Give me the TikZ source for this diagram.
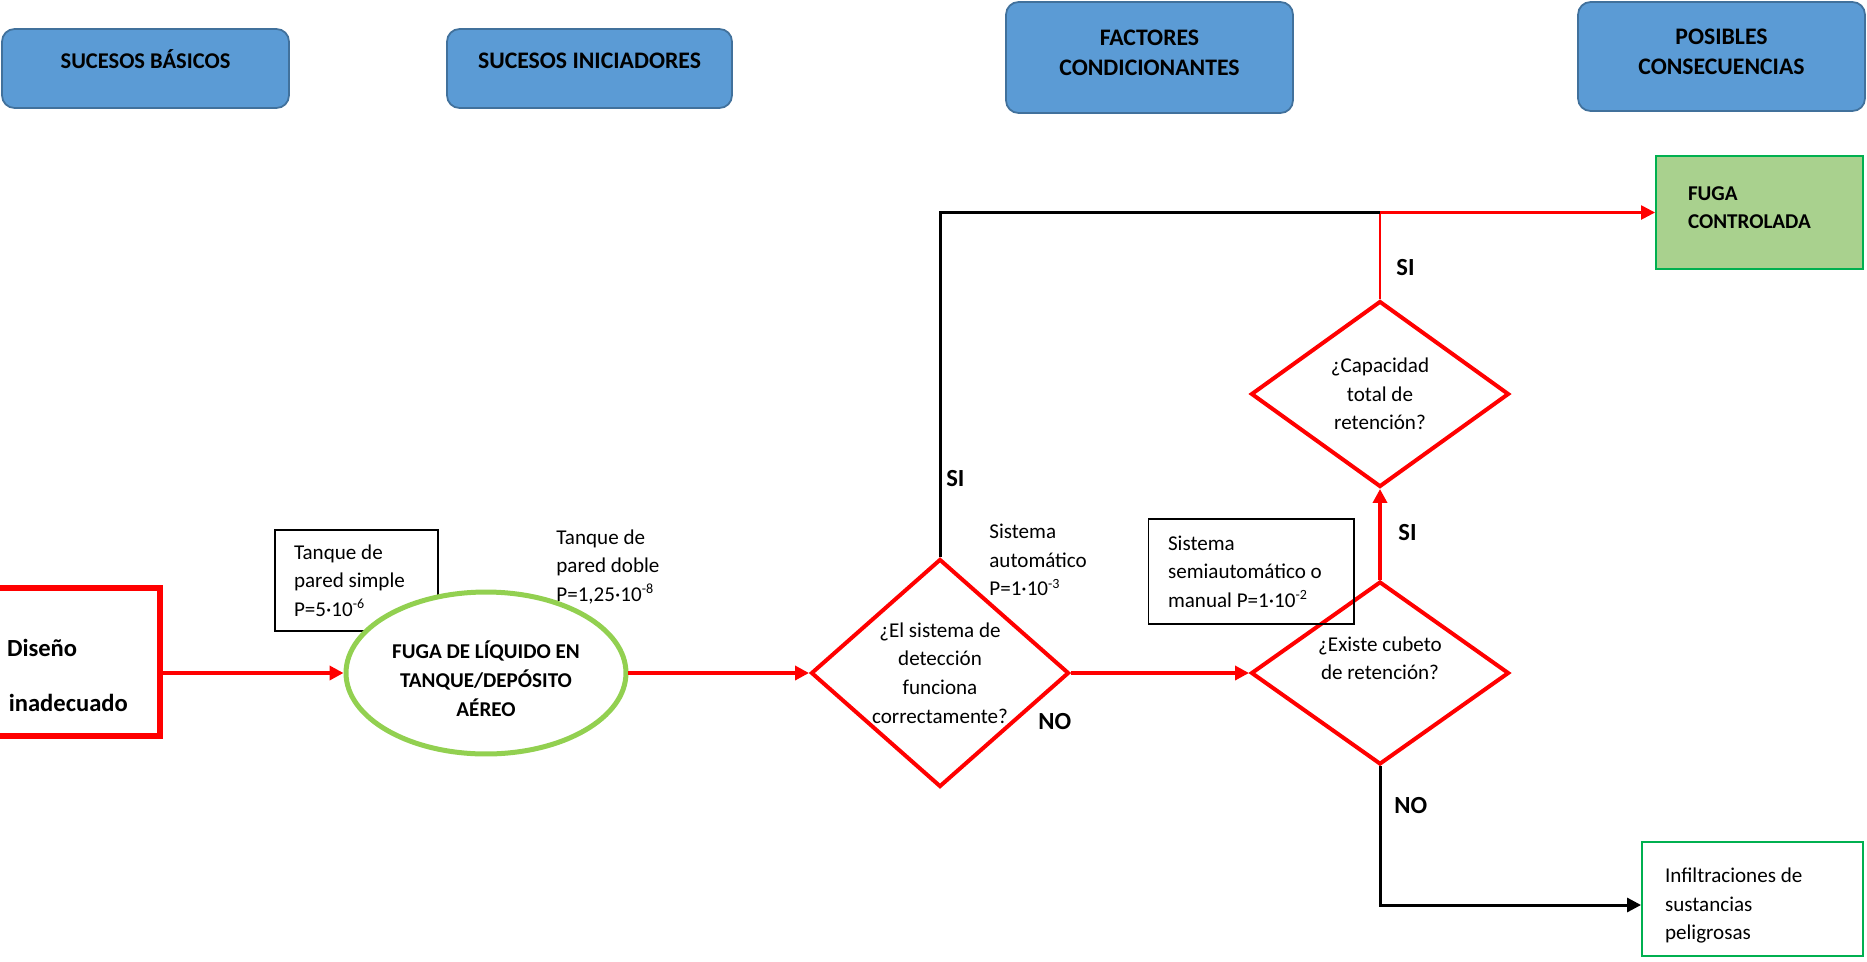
\documentclass[tikz,border=0pt]{standalone}
\usepackage{fontspec}
\setmainfont{Carlito}
\usetikzlibrary{arrows.meta,shapes.geometric}
\definecolor{cabecera}{HTML}{5B9BD5}
\definecolor{cabborde}{HTML}{41719C}
\definecolor{verdeclaro}{HTML}{92D050}
\definecolor{verdecaja}{HTML}{A9D18E}
\definecolor{verdeborde}{HTML}{00B050}
\definecolor{rojo}{HTML}{FF0000}

\begin{document}
\begin{tikzpicture}[x=0.02cm,y=-0.02cm,
  cab/.style={draw=cabborde,fill=cabecera,line width=1pt,rounded corners=0.25cm,align=center,font=\bfseries\fontsize{13.5}{17}\selectfont,minimum width=5.74cm},
  caja/.style={draw,line width=0.6pt,align=flush left,font=\fontsize{12}{16.3}\selectfont},
  rombo/.style={diamond,draw=rojo,line width=0.08cm,inner sep=0pt,align=center,font=\fontsize{12}{16.3}\selectfont,minimum width=5.16cm},
  flecha/.style={draw=rojo,line width=2.3pt,-{Triangle[length=0.28cm,width=0.28cm]}},
  fina/.style={draw=rojo,line width=1.4pt},
  negra/.style={draw=black,line width=1.7pt},
  etiq/.style={anchor=west,inner sep=0pt,font=\bfseries\fontsize{14}{17}\selectfont},
  nota/.style={anchor=west,inner sep=0pt,align=left,font=\fontsize{12}{16.3}\selectfont}]
\useasboundingbox (0,0) rectangle (1867,961);

\node[cab,minimum height=1.58cm,text height=8pt,text depth=8pt,font=\bfseries\fontsize{12.8}{17}\selectfont] (basicos) at (145.5,68.5) {SUCESOS BÁSICOS};
\node[cab,minimum width=5.70cm,minimum height=1.58cm,text height=8pt,text depth=8pt] (iniciadores) at (589.5,68.5) {SUCESOS INICIADORES};
\node[cab,minimum height=2.22cm,text depth=5pt] (factores) at (1149.5,57.5) {FACTORES\\CONDICIONANTES};
\node[cab,minimum height=2.18cm,text depth=5pt] (consecuencias) at (1721.5,56.5) {POSIBLES\\CONSECUENCIAS};

\node[draw=rojo,line width=0.12cm,minimum width=3.4cm,minimum height=2.96cm,text width=2.72cm,inner xsep=0.34cm,align=flush left,text depth=16pt,font=\bfseries\fontsize{14}{17}\selectfont] (dis) at (75,662) {Diseño\\[14pt]\hspace{1pt}inadecuado};
\node[caja,text width=2.5cm,inner xsep=0.38cm,minimum height=2.02cm] (simple) at (356.5,580.5) {Tanque de\\pared simple\\P=5·10\textsuperscript{-6}};
\node[ellipse,draw=verdeclaro,fill=white,line width=0.1cm,inner sep=0pt,minimum width=5.6cm,minimum height=3.24cm,align=center,text height=49pt,text depth=0pt,font=\bfseries\fontsize{12}{16.3}\selectfont] (fuga) at (486,673) {FUGA DE LÍQUIDO EN\\TANQUE/DEPÓSITO\\AÉREO};
\node[nota] (doble) at (556,567) {Tanque de\\pared doble\\P=1,25·10\textsuperscript{-8}};

\node[rombo,minimum height=4.56cm,shape aspect=1.13] (deteccion) at (940,673) {¿El sistema de\\detección\\funciona\\correctamente?};
\node[nota] (automatico) at (989,560) {Sistema\\automático\\P=1·10\textsuperscript{-3}};
\node[rombo,minimum height=3.66cm,shape aspect=1.41,text depth=17pt] (cubeto) at (1380,673) {¿Existe cubeto\\de retención?};
\node[caja,text width=3.32cm,inner xsep=0.4cm,minimum height=2.1cm] (manual) at (1251,571.5) {Sistema\\semiautomático o\\manual P=1·10\textsuperscript{-2}};
\node[rombo,minimum height=3.72cm,shape aspect=1.39] (capacidad) at (1380,394) {¿Capacidad\\total de\\retención?};

\node[draw=verdeborde,fill=verdecaja,line width=1.1pt,text width=2.86cm,inner xsep=0.64cm,minimum height=2.26cm,align=flush left,text depth=22pt,font=\bfseries\fontsize{12}{16.3}\selectfont] (controlada) at (1759.5,212.5) {FUGA\\CONTROLADA};
\node[draw=verdeborde,line width=1.1pt,text width=3.5cm,inner xsep=0.46cm,minimum height=2.28cm,align=flush left,text depth=27pt,font=\fontsize{12}{16.3}\selectfont] (infiltraciones) at (1752.5,899) {Infiltraciones de\\sustancias\\peligrosas};

\coordinate (cruce) at (capacidad.north |- controlada.west);
\coordinate (entrada) at ([yshift=-0.12cm]infiltraciones.west);
\draw[flecha] (fuga.west -| dis.east) -- (fuga.west);
\draw[flecha] (fuga.east) -- (deteccion.west);
\draw[flecha] (deteccion.east) -- (cubeto.west);
\draw[flecha] (cubeto.north) -- (capacidad.south);
\draw[fina] (capacidad.north) -- (cruce);
\draw[fina,-{Triangle[length=0.28cm,width=0.28cm]}] (cruce) -- (controlada.west);
\draw[negra] (deteccion.north) |- (cruce);
\draw[negra,-{Triangle[length=0.28cm,width=0.28cm]}] (cubeto.south) |- (entrada);

\node[etiq] (si1) at (946,479) {SI};
\node[etiq] (si2) at (1396,268) {SI};
\node[etiq] (si3) at (1398,533) {SI};
\node[etiq] (no1) at (1038,722) {NO};
\node[etiq] (no2) at (1394,806) {NO};
\end{tikzpicture}
\end{document}
